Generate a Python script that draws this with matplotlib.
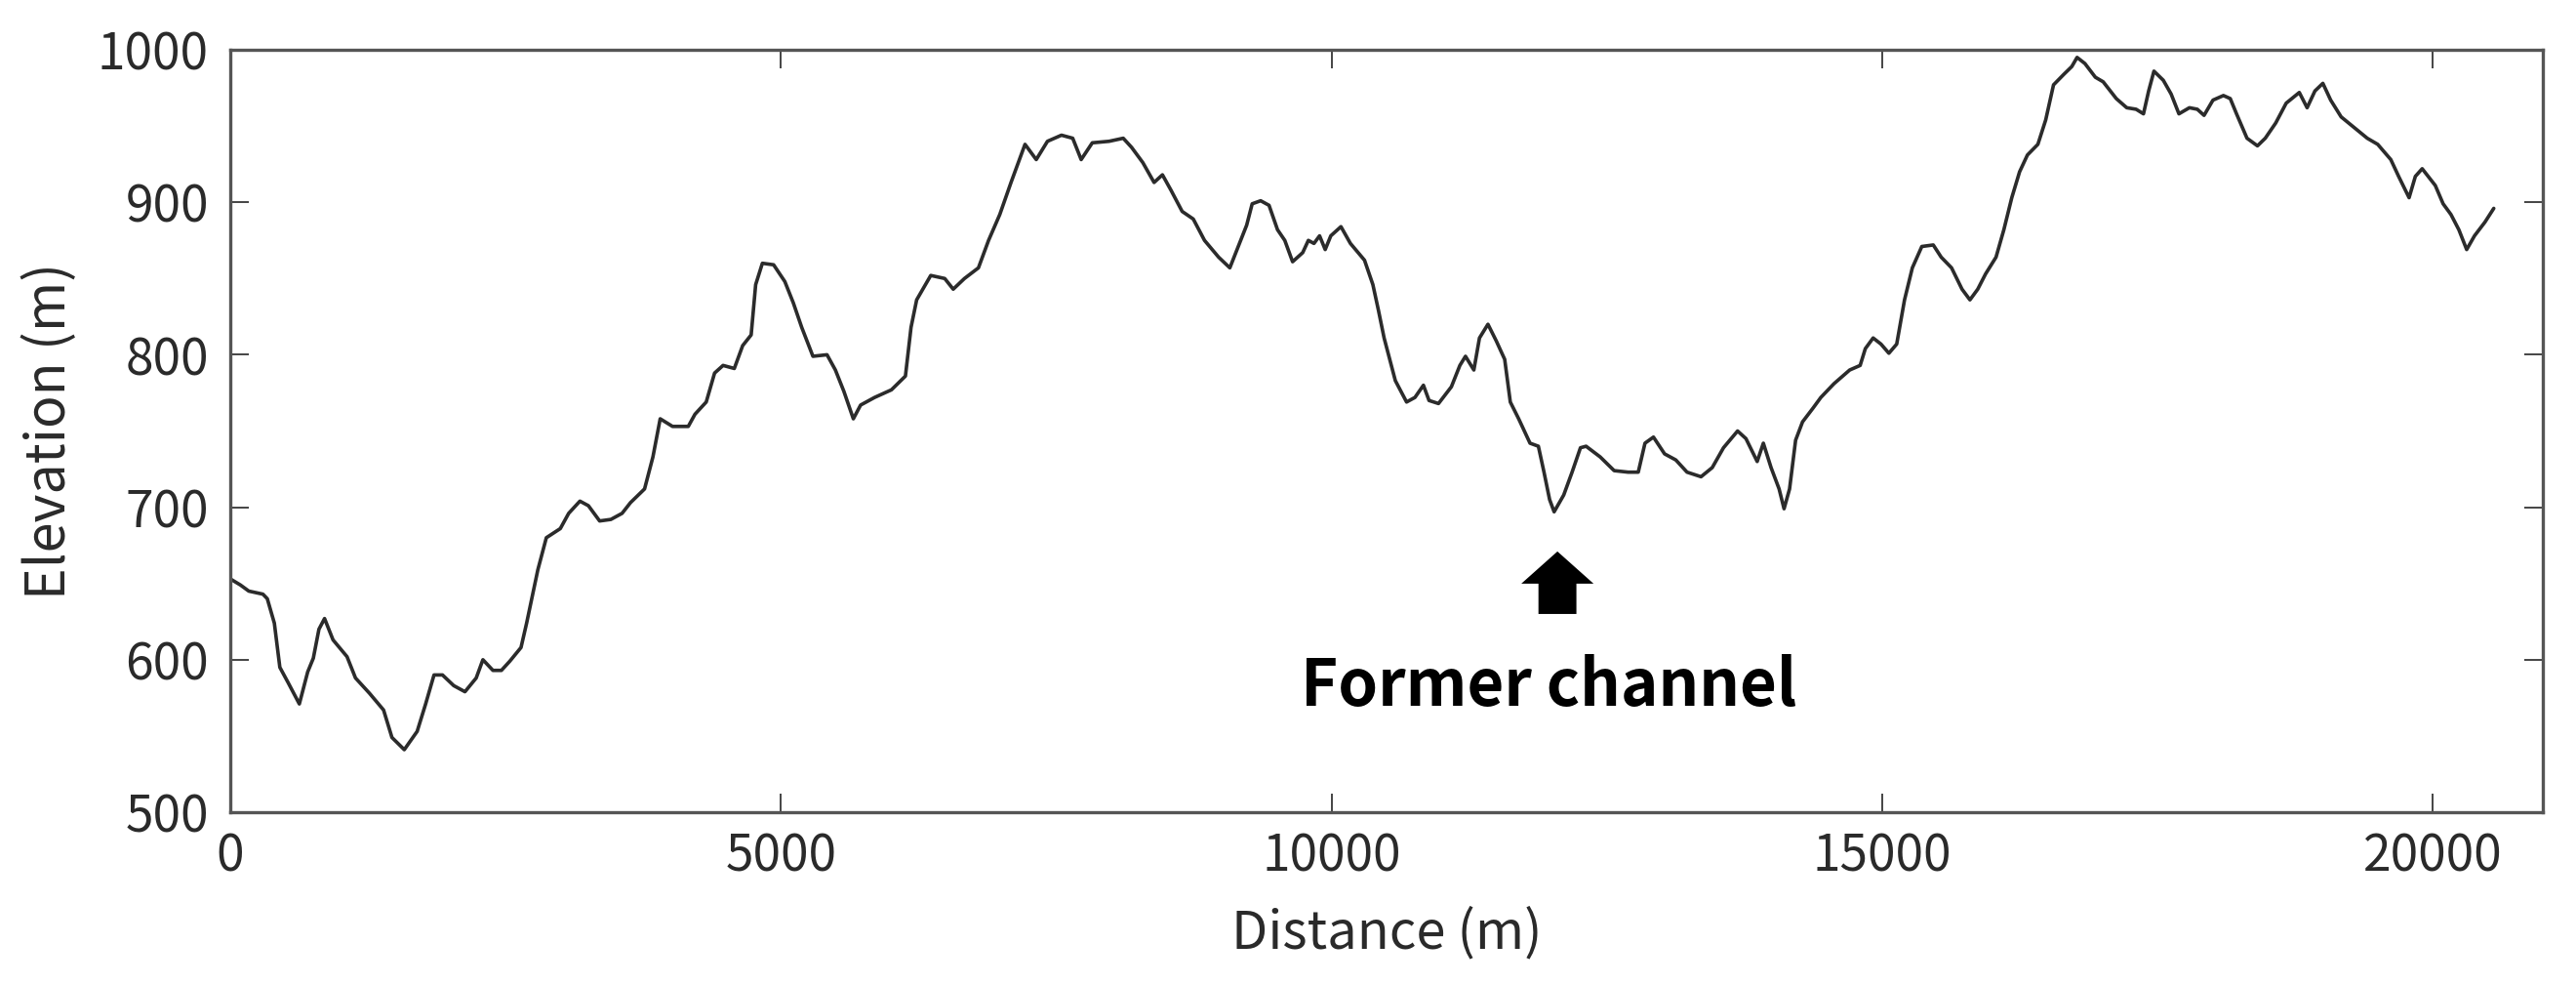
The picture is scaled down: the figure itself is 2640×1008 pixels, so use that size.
import matplotlib
matplotlib.use("Agg")
import matplotlib.pyplot as plt

plt.rcParams['font.family'] = ['Noto Sans CJK JP', 'DejaVu Sans']

distance = [0, 92, 168, 296, 336, 400, 450, 525, 627, 703, 754, 805, 856, 933, 1060, 1137, 1264,
            1392, 1468, 1580, 1697, 1774, 1850, 1927, 2029, 2131, 2233, 2294, 2385, 2462, 2538,
            2640, 2691, 2793, 2870, 2997, 3073, 3175, 3252, 3354, 3456, 3558, 3634, 3762, 3838,
            3904, 4016, 4159, 4220, 4322, 4398, 4475, 4577, 4653, 4730, 4771, 4832, 4934, 5036,
            5113, 5189, 5291, 5419, 5495, 5572, 5658, 5724, 5851, 6004, 6131, 6182, 6233, 6361,
            6488, 6565, 6667, 6794, 6886, 6988, 7090, 7217, 7319, 7421, 7548, 7650, 7727, 7828,
            7981, 8109, 8185, 8287, 8389, 8465, 8542, 8644, 8745, 8847, 8975, 9077, 9153, 9230,
            9280, 9357, 9433, 9510, 9576, 9647, 9739, 9790, 9841, 9892, 9943, 9994, 10086, 10172,
            10300, 10376, 10427, 10478, 10580, 10682, 10758, 10835, 10886, 10972, 11089, 11166,
            11217, 11293, 11344, 11421, 11497, 11573, 11624, 11700, 11803, 11879, 11930, 11981,
            12022, 12109, 12185, 12261, 12312, 12440, 12567, 12694, 12786, 12847, 12924, 13025,
            13127, 13229, 13356, 13458, 13560, 13688, 13764, 13866, 13922, 13992, 14065, 14110,
            14160, 14215, 14278, 14373, 14444, 14563, 14706, 14801, 14848, 14919, 14990, 15062,
            15133, 15204, 15275, 15361, 15465, 15537, 15631, 15726, 15798, 15869, 15940, 16035,
            16106, 16178, 16249, 16320, 16415, 16486, 16557, 16652, 16723, 16771, 16842, 16937,
            17008, 17127, 17222, 17307, 17374, 17421, 17469, 17554, 17625, 17696, 17791, 17863,
            17924, 18005, 18100, 18162, 18219, 18314, 18409, 18480, 18575, 18670, 18789, 18860,
            18931, 19003, 19074, 19169, 19288, 19406, 19501, 19620, 19691, 19786, 19843, 19905,
            20024, 20095, 20166, 20238, 20309, 20380, 20475, 20555]
elevation = [653, 649, 645, 643, 640, 624, 595, 585, 571, 592, 601, 620, 627, 613, 602, 588, 578,
             567, 549, 541, 553, 571, 590, 590, 583, 579, 588, 600, 593, 593, 599,
             608, 624, 659, 680, 686, 696, 704, 701, 691, 692, 696, 703, 712, 733,
             758, 753, 753, 761, 769, 788, 793, 791, 806, 813, 846, 860, 859, 848,
             834, 818, 799, 800, 790, 776, 758, 767, 772, 777, 786, 818, 836, 852,
             850, 843, 850, 857, 875, 892, 913, 938, 928, 940, 944, 942, 928, 939,
             940, 942, 936, 926, 913, 918, 908, 894, 889, 875, 864, 857, 871, 885,
             899, 901, 898, 882, 875, 861, 867, 875, 873, 878, 869, 878, 884, 873,
             862, 846, 829, 811, 783, 769, 772, 780, 770, 768, 779, 793,
             799, 790, 811, 820, 809, 797, 769, 758, 742, 740, 723, 705,
             697, 708, 723, 739, 740, 733, 724, 723, 723, 742, 746, 735,
             731, 723, 720, 726, 739, 750, 745, 730, 742, 726, 712, 699,
             712, 744, 756, 765, 772, 781, 790, 793, 804, 811, 807, 801,
             807, 836, 857, 871, 872, 864, 857, 843, 836, 843, 853, 864,
             882, 903, 920, 931, 938, 954, 977, 984, 989, 995, 991, 982,
             979, 968, 962, 961, 958, 973, 986, 980, 971, 958, 962, 961,
             957, 967, 970, 968, 958, 942, 937, 942, 952, 965, 972, 962,
             973, 978, 967, 956, 949, 942, 938, 928, 917, 903, 917, 922,
             911, 899, 892, 882, 869, 878, 887, 896]

x_ticks = [0, 5000, 10000, 15000, 20000]
y_ticks = [500, 600, 700, 800, 900, 1000]
x_label = "Distance (m)"
y_label = "Elevation (m)"
annotation_text = "Former channel"

fig = plt.figure(figsize=(26.4, 10.08), dpi=100)
ax = fig.add_axes([0.0894, 0.1746, 0.8977, 0.7748])

ax.plot(distance, elevation, color='#2b2b2b', lw=2.6, solid_joinstyle='round',
        solid_capstyle='round')

ax.set_xlim(0, 21000)
ax.set_ylim(500, 1000)
ax.set_xticks(x_ticks)
ax.set_yticks(y_ticks)
ax.set_xticklabels([str(v) for v in x_ticks])
ax.set_yticklabels([str(v) for v in y_ticks])

spine_color = '#555555'
for s in ax.spines.values():
    s.set_color(spine_color)
    s.set_linewidth(2.4)

ax.tick_params(axis='both', direction='in', length=14, width=1.4, color='#444444',
               labelsize=37, labelcolor='#2a2a2a', top=True, right=True)
ax.tick_params(axis='x', pad=14)
ax.tick_params(axis='y', pad=16)

ax.set_xlabel(x_label, fontsize=39, color='#2a2a2a', labelpad=17)
ax.set_ylabel(y_label, fontsize=40, color='#2a2a2a', labelpad=14)

ax.annotate('', xy=(12052, 671), xytext=(12052, 630),
            arrowprops=dict(arrowstyle='simple,head_length=0.475,head_width=1.066,tail_width=0.56',
                            mutation_scale=50, color='black', shrinkA=0, shrinkB=0, lw=0))
ax.text(11972, 570, annotation_text, ha='center', va='baseline', fontsize=47,
        fontweight='bold', color='black')

fig.savefig('out.png', dpi=100)
